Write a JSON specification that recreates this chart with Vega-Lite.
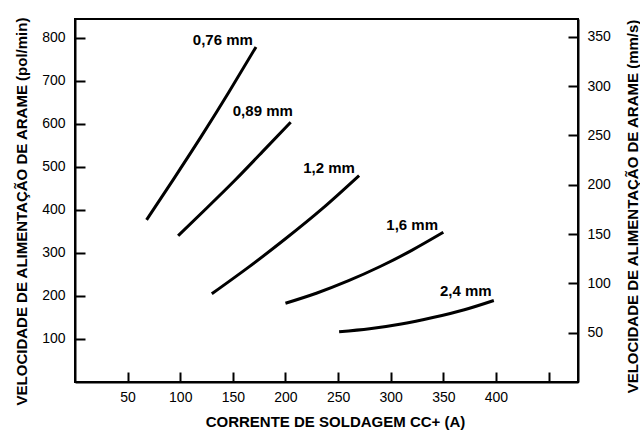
{
  "$schema": "https://vega.github.io/schema/vega-lite/v6.json",
  "width": 503,
  "height": 363,
  "autosize": {"type": "none"},
  "padding": {"left": 75, "top": 19, "right": 62, "bottom": 48},
  "background": "white",
  "config": {
    "view": {"stroke": "black", "strokeWidth": 2},
    "font": "Liberation Sans",
    "axis": {
      "grid": false,
      "domainColor": "black",
      "domainWidth": 2,
      "tickColor": "black",
      "tickWidth": 2,
      "labelColor": "black",
      "labelFont": "Liberation Sans",
      "labelFontSize": 14,
      "titleColor": "black",
      "titleFont": "Liberation Sans",
      "titleFontSize": 15,
      "titleFontWeight": "bold"
    }
  },
  "datasets": {
    "curves": [
      {"wire": "0,76 mm", "current": 68, "wfs": 377},
      {"wire": "0,76 mm", "current": 94, "wfs": 473},
      {"wire": "0,76 mm", "current": 120, "wfs": 571},
      {"wire": "0,76 mm", "current": 146, "wfs": 673},
      {"wire": "0,76 mm", "current": 172, "wfs": 779},
      {"wire": "0,89 mm", "current": 98, "wfs": 340},
      {"wire": "0,89 mm", "current": 125, "wfs": 404},
      {"wire": "0,89 mm", "current": 152, "wfs": 469},
      {"wire": "0,89 mm", "current": 178, "wfs": 535},
      {"wire": "0,89 mm", "current": 205, "wfs": 604},
      {"wire": "1,2 mm", "current": 130, "wfs": 205},
      {"wire": "1,2 mm", "current": 165, "wfs": 267},
      {"wire": "1,2 mm", "current": 200, "wfs": 333},
      {"wire": "1,2 mm", "current": 235, "wfs": 403},
      {"wire": "1,2 mm", "current": 270, "wfs": 480},
      {"wire": "1,6 mm", "current": 200, "wfs": 183},
      {"wire": "1,6 mm", "current": 230, "wfs": 207},
      {"wire": "1,6 mm", "current": 260, "wfs": 235.5},
      {"wire": "1,6 mm", "current": 290, "wfs": 268.5},
      {"wire": "1,6 mm", "current": 320, "wfs": 306},
      {"wire": "1,6 mm", "current": 350, "wfs": 348},
      {"wire": "2,4 mm", "current": 251, "wfs": 117},
      {"wire": "2,4 mm", "current": 280, "wfs": 124},
      {"wire": "2,4 mm", "current": 310, "wfs": 135},
      {"wire": "2,4 mm", "current": 340, "wfs": 150},
      {"wire": "2,4 mm", "current": 370, "wfs": 168},
      {"wire": "2,4 mm", "current": 398, "wfs": 189.5}
    ],
    "labels": [
      {"wire": "0,76 mm", "current": 169, "wfs": 795},
      {"wire": "0,89 mm", "current": 207, "wfs": 630},
      {"wire": "1,2 mm", "current": 266, "wfs": 498},
      {"wire": "1,6 mm", "current": 345, "wfs": 365},
      {"wire": "2,4 mm", "current": 396, "wfs": 212}
    ]
  },
  "layer": [
    {
      "layer": [
        {
          "data": {"name": "curves"},
          "mark": {"type": "line", "color": "black", "strokeWidth": 3, "interpolate": "natural"},
          "encoding": {
            "x": {
              "field": "current",
              "type": "quantitative",
              "scale": {"domain": [0, 478], "nice": false, "zero": false},
              "axis": {
                "title": "CORRENTE DE SOLDAGEM CC+ (A)",
                "values": [50, 100, 150, 200, 250, 300, 350, 400, 450],
                "labelExpr": "datum.value > 400 ? '' : datum.label",
                "tickSize": -10,
                "labelPadding": 18,
                "titleX": 260,
                "titleY": 39,
                "titleBaseline": "middle",
                "encode": {"ticks": {"update": {"y2": {"signal": "datum.value % 100 === 0 ? -10 : -6"}}}}
              }
            },
            "y": {
              "field": "wfs",
              "type": "quantitative",
              "scale": {"domain": [0, 844], "nice": false, "zero": false},
              "axis": {
                "title": "VELOCIDADE DE ALIMENTAÇÃO DE ARAME (pol/min)",
                "values": [100, 200, 300, 400, 500, 600, 700, 800],
                "tickSize": -10,
                "labelPadding": 20,
                "titleX": -54,
                "titleY": 192,
                "titleAngle": -90,
                "titleBaseline": "middle"
              }
            },
            "detail": {"field": "wire"}
          }
        },
        {
          "data": {"name": "labels"},
          "mark": {"type": "text", "align": "right", "baseline": "middle", "fontWeight": "bold", "fontSize": 15, "font": "Liberation Sans", "color": "black"},
          "encoding": {
            "x": {"field": "current", "type": "quantitative"},
            "y": {"field": "wfs", "type": "quantitative"},
            "text": {"field": "wire"}
          }
        }
      ]
    },
    {
      "data": {"name": "labels"},
      "mark": {"type": "point", "opacity": 0},
      "encoding": {
        "y": {
          "datum": 0,
          "type": "quantitative",
          "scale": {"domain": [0, 368], "nice": false, "zero": false},
          "axis": {
            "orient": "right",
            "title": "VELOCIDADE DE ALIMENTAÇÃO DE ARAME (mm/s)",
            "values": [50, 100, 150, 200, 250, 300, 350],
            "tickSize": -10,
            "labelPadding": 19,
            "titleX": 54,
            "titleY": 187,
            "titleAngle": -90,
            "titleBaseline": "middle"
          }
        }
      }
    }
  ],
  "resolve": {"scale": {"y": "independent"}}
}
